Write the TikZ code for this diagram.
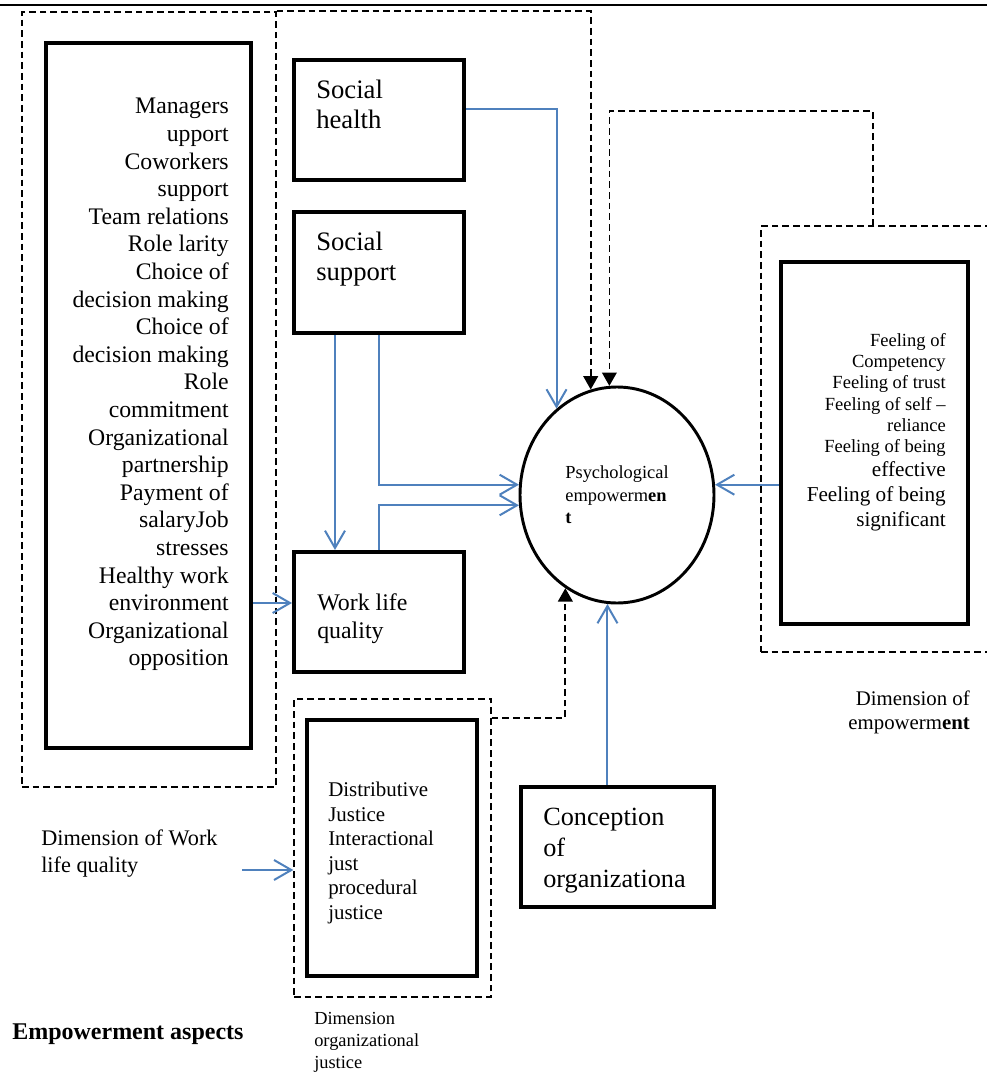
\documentclass[tikz,border=0pt]{standalone}
\usepackage{fontspec}
\setmainfont{Liberation Serif}
\usepackage{tikz}
\usetikzlibrary{
  shapes.geometric,
  arrows.meta,
  positioning,
  fit,
  calc
}
\definecolor{empblue}{RGB}{79,129,189}
\tikzset{
  box/.style={
    rectangle, draw=black, line width=3pt, inner sep=0pt
  },
  groupbox/.style={
    rectangle, draw=black, line width=1pt, inner sep=0pt,
    dash pattern=on 5pt off 3pt
  },
  txt/.style={inner sep=0pt, font=\fontsize{17.8}{20.7}\selectfont},
  arrowB/.style={-{Straight Barb[length=13pt,width=15pt,line width=1.5pt]},
    line width=1.5pt, color=empblue},
  dasharrow/.style={-{Triangle[length=10pt,width=11pt]}, line width=1.3pt,
    dash pattern=on 5pt off 3pt, color=black}
}

\begin{document}
\begin{tikzpicture}[x=0.75pt,y=-0.75pt]
  \useasboundingbox (0,0) rectangle (987,1074);
  % Rule on top
  \draw[line width=2.2pt] (0,5) -- (987,5);
  % Boxes
  \node[groupbox, fit={(22,12) (276,787)}] (wqgroup) {};
  \node[box, fit={(46,43) (251,748)}] (wqbox) {};
  \node[box, fit={(294,60) (464,180)}] (shealth) {};
  \node[box, fit={(294,212) (464,333)}] (ssupport) {};
  \node[box, fit={(294,552) (464,672)}] (wlq) {};
  \node[groupbox, fit={(761,226) (1010,652)}] (empgroup) {};
  \node[box, fit={(781,262) (968,624)}] (feel) {};
  \node[groupbox, fit={(294,699) (491,997)}] (jgroup) {};
  \node[box, fit={(307,720) (477,976)}] (jbox) {};
  \node[box, fit={(521,787) (714,907)}] (cbox) {};
  \node[ellipse, draw, line width=2.2pt, minimum width=145.5pt,
    minimum height=162pt, inner sep=0pt, align=left,
    font=\fontsize{13.8}{16.9}\selectfont] (psy) at (617,495)
    {Psychological\\empowerm\textbf{en}\\\textbf{t}};
  % Texts in boxes
  \node[txt, align=right, anchor=north east] (wqtxt) at (229,98)
    {Managers\\upport\\Coworkers\\support\\Team relations\\Role larity\\
     Choice of\\decision making\\Choice of\\decision making\\Role\\
     commitment\\Organizational\\partnership\\Payment of\\salaryJob\\
     stresses\\Healthy work\\environment\\Organizational\\opposition};
  \node[txt, align=left, anchor=north west,
    font=\fontsize{20}{22.5}\selectfont] (shealthtxt) at (316,80)
    {Social\\health};
  \node[txt, align=left, anchor=north west,
    font=\fontsize{20}{22.5}\selectfont] (ssupporttxt) at (316,232)
    {Social\\support};
  \node[txt, align=left, anchor=north west,
    font=\fontsize{17.9}{21}\selectfont] (wlqtxt) at (317,593)
    {Work life\\quality};
  \node[txt, align=right, anchor=north east,
    font=\fontsize{13.9}{16}\selectfont] (feeltxt) at (946,333)
    {Feeling of\\Competency\\Feeling of trust\\Feeling of self --\\reliance\\
     Feeling of being\\[2pt]{\fontsize{15.9}{18.7}\selectfont effective}\\[2.5pt]
     {\fontsize{15.9}{18.7}\selectfont Feeling of being}\\[2.5pt]
     {\fontsize{15.9}{18.7}\selectfont significant}};
  \node[txt, align=left, anchor=north west,
    font=\fontsize{15.7}{18.4}\selectfont] (jtxt) at (328,782)
    {Distributive\\Justice\\Interactional\\just\\procedural\\justice};
  \node[txt, align=left, anchor=north west,
    font=\fontsize{19.7}{23.2}\selectfont] (ctxt) at (543,808)
    {Conception\\of\\organizationa};
  % Captions
  \node[txt, align=right, anchor=north east,
    font=\fontsize{15.6}{18}\selectfont] (empcap) at (970,691)
    {Dimension of\\empowerm\textbf{ent}};
  \node[txt, align=left, anchor=north west,
    font=\fontsize{16.7}{20.2}\selectfont] (wqcap) at (41,830)
    {Dimension of Work\\life quality};
  \node[txt, anchor=north west,
    font=\fontsize{18}{21}\selectfont\bfseries] (aspects) at (12,1024)
    {Empowerment aspects};
  \node[txt, align=left, anchor=north west,
    font=\fontsize{13.8}{16.5}\selectfont] (jcap) at (314,1012)
    {Dimension\\organizational\\justice};
  % Blue arrows
  \coordinate (wlqin) at ($(wlq.west)+(0,-9)$);
  \coordinate (dwstart) at (242,870);
  \draw[arrowB] ([yshift=8pt]shealth.east) -| (psy.125);
  \draw[arrowB] ([xshift=-33pt]ssupport.south) -- ([xshift=-33pt]wlq.north);
  \draw[arrowB] (ssupport.south) |- (psy.174);
  \draw[arrowB] (wlq.north) |- (psy.186);
  \draw[arrowB] (wlqin -| wqbox.east) -- (wlqin);
  \draw[arrowB] (feel.west |- psy.6) -- (psy.6);
  \draw[arrowB] (cbox.north -| psy.265) -- (psy.265);
  \draw[arrowB] (dwstart) -- (dwstart -| jgroup.west);
  % Dashed arrows
  \draw[dasharrow] (wqgroup.north east) -| (psy.104);
  \draw[dasharrow] ($(empgroup.north west)+(113,0)$) -- ++(0,-114) -| (psy.94);
  \draw[dasharrow] (jgroup.east |- jbox.north) -| (psy.241);
\end{tikzpicture}
\end{document}
